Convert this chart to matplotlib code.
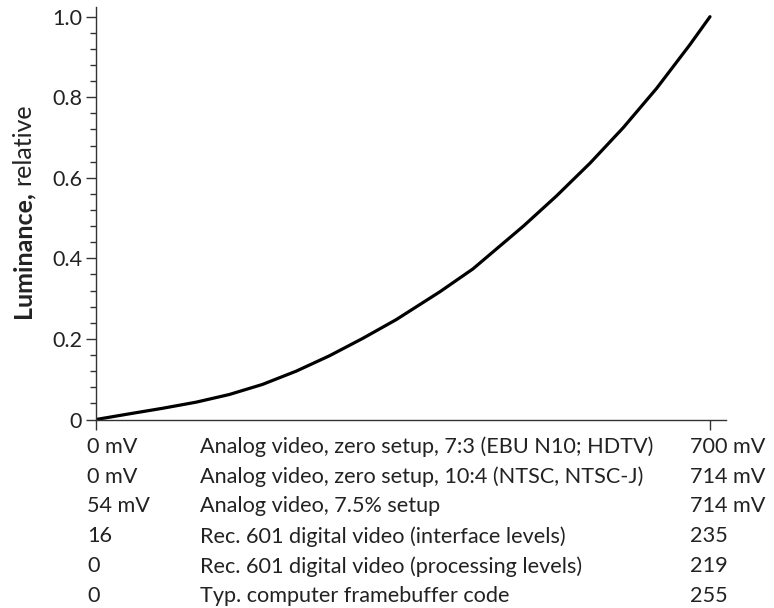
import matplotlib
matplotlib.use('Agg')
import matplotlib.pyplot as plt
from matplotlib.ticker import MultipleLocator

# curve: signal (fraction of full scale) vs relative luminance
signal = [0, 0.054, 0.109, 0.163, 0.217, 0.271, 0.326, 0.380, 0.434, 0.489,
          0.560, 0.614, 0.696, 0.750, 0.805, 0.859, 0.913, 0.967, 1.0]
luminance = [0, 0.014, 0.028, 0.043, 0.062, 0.087, 0.120, 0.158, 0.201, 0.248,
             0.317, 0.374, 0.480, 0.555, 0.637, 0.725, 0.822, 0.930, 1.0]

y_ticks = [0, 0.2, 0.4, 0.6, 0.8, 1.0]
y_tick_labels = ['0', '0.2', '0.4', '0.6', '0.8', '1.0']

# table below the axis: black level, description, white level
low_values = ['0 mV', '0 mV', '54 mV', '16', '0', '0']
descriptions = ['Analog video, zero setup, 7:3 (EBU N10; HDTV)',
                'Analog video, zero setup, 10:4 (NTSC, NTSC-J)',
                'Analog video, 7.5% setup',
                'Rec. 601 digital video (interface levels)',
                'Rec. 601 digital video (processing levels)',
                'Typ. computer framebuffer code']
high_values = ['700 mV', '714 mV', '714 mV', '235', '219', '255']

plt.rcParams['font.family'] = ['Lato', 'DejaVu Sans']
fs = 15.6
W, H = 774, 608

fig = plt.figure(figsize=(W / 100, H / 100), dpi=100)
ax = fig.add_axes([96 / W, 1 - 419.5 / H, 630 / W, 412.8 / H])

ax.plot(signal, luminance, color='black', lw=2.3, solid_capstyle='round',
        solid_joinstyle='round')
ax.set_xlim(0, 630 / 614)
ax.set_ylim(0, 412.8 / 402.8)

for s in ['top', 'right']:
    ax.spines[s].set_visible(False)
for s in ['left', 'bottom']:
    ax.spines[s].set_color('#333333')
    ax.spines[s].set_linewidth(1.0)

ax.set_yticks(y_ticks)
ax.set_yticklabels(y_tick_labels, fontsize=15.5, color='#222222')
ax.yaxis.set_minor_locator(MultipleLocator(0.04))
ax.tick_params(axis='y', which='major', length=7, width=1.0, color='#333333', pad=3)
ax.tick_params(axis='y', which='minor', length=4.5, width=1.0, color='#333333')
ax.set_xticks([0, 1.0])
ax.set_xticklabels([])
ax.tick_params(axis='x', which='major', length=7.5, width=1.0, color='#333333')

# y label: bold "Luminance," followed by regular "relative"
t1 = fig.text(23 / W, 1 - 318 / H, 'Luminance,', rotation=90, fontsize=18,
              fontweight='bold', ha='center', va='bottom', color='#222222')
fig.canvas.draw()
bb = t1.get_window_extent(fig.canvas.get_renderer())
fig.text(23 / W, (bb.y1 + 6) / H, 'relative', rotation=90, fontsize=18,
         ha='center', va='bottom', color='#222222')

row0 = 446.7
step = 29.9
for i in range(len(descriptions)):
    y = 1 - (row0 + i * step) / H
    fig.text(87 / W, y, low_values[i], fontsize=fs, va='center', color='#222222')
    fig.text(200 / W, y, descriptions[i], fontsize=fs, va='center', color='#222222')
    fig.text(690 / W, y, high_values[i], fontsize=fs, va='center', color='#222222')

fig.savefig('out.png', dpi=100)
